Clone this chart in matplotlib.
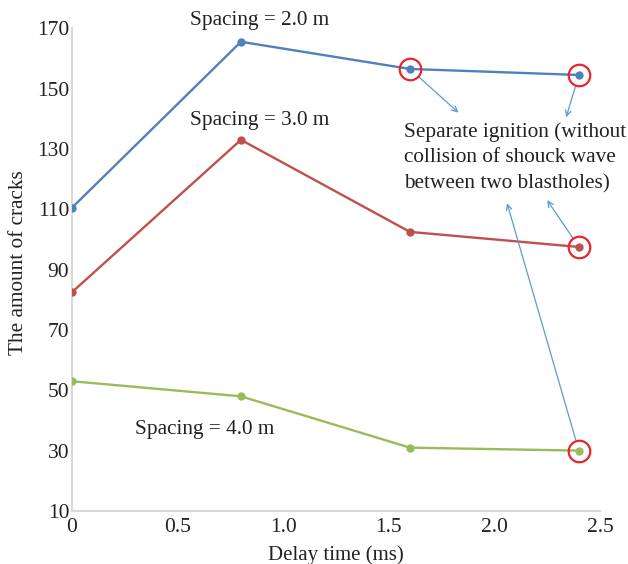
import matplotlib
matplotlib.use("Agg")
import matplotlib.pyplot as plt

# Delay time (ms) and crack counts for each blasthole spacing
delay = [0.0, 0.8, 1.6, 2.4]
spacing_2m = [110.5, 165.5, 156.5, 154.5]
spacing_3m = [82.5, 133.0, 102.5, 97.5]
spacing_4m = [53.0, 48.0, 31.0, 30.0]

x_ticks = [0, 0.5, 1.0, 1.5, 2.0, 2.5]
x_tick_labels = ["0", "0.5", "1.0", "1.5", "2.0", "2.5"]
y_ticks = [10, 30, 50, 70, 90, 110, 130, 150, 170]

BLUE = "#4f81bd"
RED = "#c0504d"
GREEN = "#9bbb59"
RING = "#e8262b"
ARROW = "#5b9bd5"
INK = "#222222"

plt.rcParams["font.family"] = ["Liberation Serif", "DejaVu Serif"]

fig = plt.figure(figsize=(6.28, 5.64), dpi=100)
ax = fig.add_axes([0.1146, 0.094, 0.8408, 0.856])

for ys, c in [(spacing_2m, BLUE), (spacing_3m, RED), (spacing_4m, GREEN)]:
    ax.plot(delay, ys, color=c, lw=1.7, marker="o", ms=5, mec=c, mfc=c, zorder=3)

# red rings around the separate-ignition points
rings_x = [delay[2], delay[3], delay[3], delay[3]]
rings_y = [spacing_2m[2], spacing_2m[3], spacing_3m[3], spacing_4m[3]]
ax.plot(rings_x, rings_y, ls="none", marker="o", ms=15.5, mfc="none",
        mec=RING, mew=1.6, zorder=4, clip_on=False)

# arrows from the ringed points towards the note
targets = [(1.83, 142.0), (2.34, 140.5), (2.25, 113.0), (2.06, 112.0)]
for (px, py), (tx, ty) in zip(zip(rings_x, rings_y), targets):
    ax.annotate("", xy=(tx, ty), xytext=(px, py),
                arrowprops=dict(arrowstyle="->", color=ARROW, lw=0.9,
                                shrinkA=8, shrinkB=0, mutation_scale=10))

ax.text(1.572, 138.8, "Separate ignition (without\ncollision of shouck wave\nbetween two blastholes)",
        fontsize=15.3, va="top", ha="left", linespacing=1.45, color=INK,
        clip_on=False)

ax.text(0.89, 172.5, "Spacing = 2.0 m", fontsize=15.3, ha="center", va="center",
        color=INK, clip_on=False)
ax.text(0.89, 139.5, "Spacing = 3.0 m", fontsize=15.3, ha="center", va="center",
        color=INK)
ax.text(0.63, 37.0, "Spacing = 4.0 m", fontsize=15.3, ha="center", va="center",
        color=INK)

ax.set_xlim(0, 2.5)
ax.set_ylim(10, 170)
ax.set_xticks(x_ticks)
ax.set_xticklabels(x_tick_labels)
ax.set_yticks(y_ticks)
ax.tick_params(axis="both", length=0, labelsize=15.5, labelcolor=INK)
ax.tick_params(axis="x", pad=5)
ax.tick_params(axis="y", pad=2)

for side in ["top", "right"]:
    ax.spines[side].set_visible(False)
for side in ["left", "bottom"]:
    ax.spines[side].set_color("#d9d9d9")
    ax.spines[side].set_linewidth(1.5)

ax.set_xlabel("Delay time (ms)", fontsize=15, color=INK, labelpad=6)
ax.set_ylabel("The amount of cracks", fontsize=15.3, color=INK)
ax.yaxis.set_label_coords(-0.083, 0.515)

fig.savefig("out.png", dpi=100)
